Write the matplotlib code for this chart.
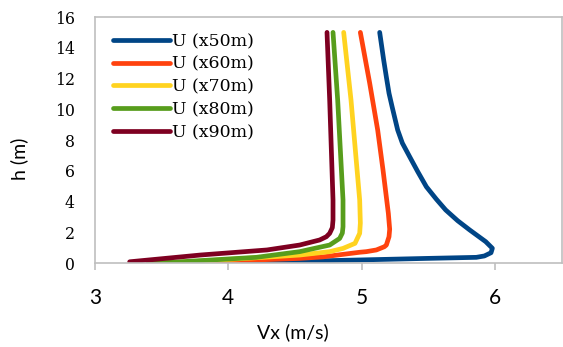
import matplotlib
matplotlib.use('Agg')
import matplotlib.pyplot as plt

# velocity profiles Vx (m/s) vs height h (m)
vx_50 = [3.86, 4.46, 4.985, 5.485, 5.86, 5.92, 5.97, 5.98, 5.93, 5.81, 5.72, 5.63,
         5.56, 5.485, 5.42, 5.36, 5.305, 5.27, 5.228, 5.205, 5.185, 5.165, 5.135]
h_50 = [0.0, 0.1, 0.2, 0.3, 0.37, 0.46, 0.67, 0.96, 1.39, 2.15, 2.75, 3.45,
        4.15, 4.96, 5.95, 6.91, 7.8, 8.65, 10.17, 11.04, 12.1, 13.2, 15.0]

vx_60 = [3.65, 4.21, 4.535, 4.71, 4.985, 5.035, 5.11, 5.17, 5.185, 5.205,
         5.21, 5.2, 5.16, 5.12, 5.06, 4.99]
h_60 = [0.0, 0.2, 0.3, 0.4, 0.7, 0.74, 0.85, 1.06, 1.17, 1.71,
        2.2, 3.23, 6.05, 8.65, 11.7, 15.0]

vx_70 = [3.49, 3.71, 4.335, 4.535, 4.76, 4.86, 4.95, 4.985, 4.99, 4.985, 4.92, 4.865]
h_70 = [0.0, 0.08, 0.41, 0.52, 0.74, 0.95, 1.28, 1.93, 2.6, 4.1, 10.6, 15.0]

vx_80 = [3.4, 3.58, 4.21, 4.535, 4.76, 4.835, 4.855, 4.86, 4.86, 4.82, 4.785]
h_80 = [0.0, 0.05, 0.37, 0.74, 1.17, 1.6, 1.95, 2.36, 4.1, 10.6, 15.0]

vx_90 = [3.26, 3.79, 4.29, 4.535, 4.585, 4.685, 4.735, 4.76, 4.78, 4.785, 4.785, 4.76, 4.74]
h_90 = [0.08, 0.52, 0.85, 1.17, 1.28, 1.5, 1.71, 1.93, 2.3, 2.8, 4.1, 10.6, 15.0]

labels = ["U (x50m)", "U (x60m)", "U (x70m)", "U (x80m)", "U (x90m)"]
colors = ["#004586", "#FF420E", "#FFD320", "#579D1C", "#7E0021"]

fig = plt.figure(figsize=(5.63, 3.47), dpi=100)
ax = fig.add_axes([0.1687, 0.242, 0.829, 0.709])

series = [(vx_50, h_50), (vx_60, h_60), (vx_70, h_70), (vx_80, h_80), (vx_90, h_90)]
for (vx, h), lab, c in zip(series, labels, colors):
    ax.plot(vx, h, color=c, linewidth=3.4, label=lab,
            solid_capstyle="round", solid_joinstyle="round")

ax.set_xlim(3, 6.5)
ax.set_ylim(0, 16)
ax.set_xticks([3, 4, 5, 6])
ax.set_yticks(range(0, 17, 2))

for s in ax.spines.values():
    s.set_color("#BFBFBF")
    s.set_linewidth(1.2)

ax.tick_params(axis="x", length=5, width=1.2, color="#BFBFBF", pad=13)
ax.tick_params(axis="y", length=0, pad=14.4)
for t in ax.get_xticklabels():
    t.set_fontfamily("Lato")
    t.set_fontsize(15)
for t in ax.get_yticklabels():
    t.set_fontfamily("DejaVu Serif")
    t.set_fontsize(11.3)

ax.set_xlabel("Vx (m/s)", fontsize=14, family="Lato")
ax.set_ylabel("h (m)", fontsize=14, family="Lato")
ax.xaxis.set_label_coords(0.424, -0.244)
ax.yaxis.set_label_coords(-0.1435, 0.423)

ax.legend(loc="upper left", frameon=False, prop={"family": "DejaVu Serif", "size": 12.5},
          handlelength=3.3, handletextpad=0.1, labelspacing=0.33,
          borderpad=0, borderaxespad=0, bbox_to_anchor=(0.0385, 0.935))

plt.savefig("out.png", dpi=100)
plt.close()
